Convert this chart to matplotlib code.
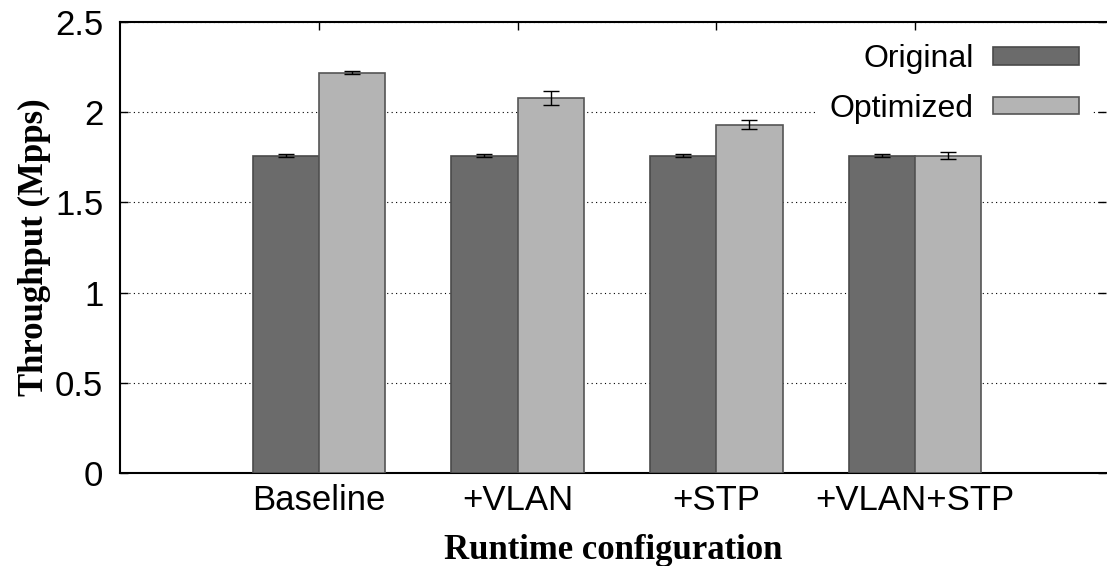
import matplotlib
matplotlib.use("Agg")
import matplotlib.pyplot as plt
import numpy as np

# Datos del gráfico
categories = ["Baseline", "+VLAN", "+STP", "+VLAN+STP"]
original = [1.76, 1.76, 1.76, 1.76]
original_err = [0.01, 0.01, 0.01, 0.01]
optimized = [2.22, 2.08, 1.93, 1.76]
optimized_err = [0.01, 0.04, 0.025, 0.02]

plt.rcParams["font.family"] = ["Liberation Sans", "DejaVu Sans"]

fig = plt.figure(figsize=(11.07, 5.66), dpi=100)
ax = fig.add_axes([0.1084, 0.1643, 0.8907, 0.7968])

x = np.arange(len(categories))
w = 0.333
err_kw = dict(ecolor="black", elinewidth=1.0, capsize=6, capthick=1.0)
ax.bar(x - w / 2, original, w, yerr=original_err, color="#6b6b6b",
       edgecolor="#4a4a4a", linewidth=1.2, label="Original", error_kw=err_kw, zorder=3)
ax.bar(x + w / 2, optimized, w, yerr=optimized_err, color="#b4b4b4",
       edgecolor="#555555", linewidth=1.2, label="Optimized", error_kw=err_kw, zorder=3)

ax.set_xlim(-1.0, 3.96)
ax.set_ylim(0, 2.5)
ax.set_yticks([0, 0.5, 1, 1.5, 2, 2.5])
ax.set_yticklabels(["0", "0.5", "1", "1.5", "2", "2.5"])
ax.set_xticks(x)
ax.set_xticklabels(categories)
ax.tick_params(axis="both", direction="in", labelsize=25, length=6, width=1,
               top=True, right=True)
ax.tick_params(axis="y", pad=12)
ax.tick_params(axis="x", pad=8)
ax.grid(axis="y", linestyle=(0, (1, 3)), color="black", linewidth=0.8, zorder=0)
for s in ax.spines.values():
    s.set_linewidth(1.5)
ax.spines["right"].set_visible(False)

ax.set_xlabel("Runtime configuration", fontsize=25, fontweight="bold",
              family="Liberation Serif", labelpad=12)
ax.set_ylabel("Throughput (Mpps)", fontsize=25, fontweight="bold",
              family="Liberation Serif", labelpad=3)

leg = ax.legend(loc="upper right", bbox_to_anchor=(1.0, 1.011), markerfirst=False,
                fontsize=23, frameon=True,
                handlelength=2.7, handleheight=0.47, labelspacing=0.62,
                borderaxespad=0.45, borderpad=0.4, handletextpad=0.6)
leg.get_frame().set_edgecolor("none")
leg.get_frame().set_facecolor("white")
leg.get_frame().set_alpha(1)
leg.set_zorder(5)

plt.savefig("out.png", dpi=100)
